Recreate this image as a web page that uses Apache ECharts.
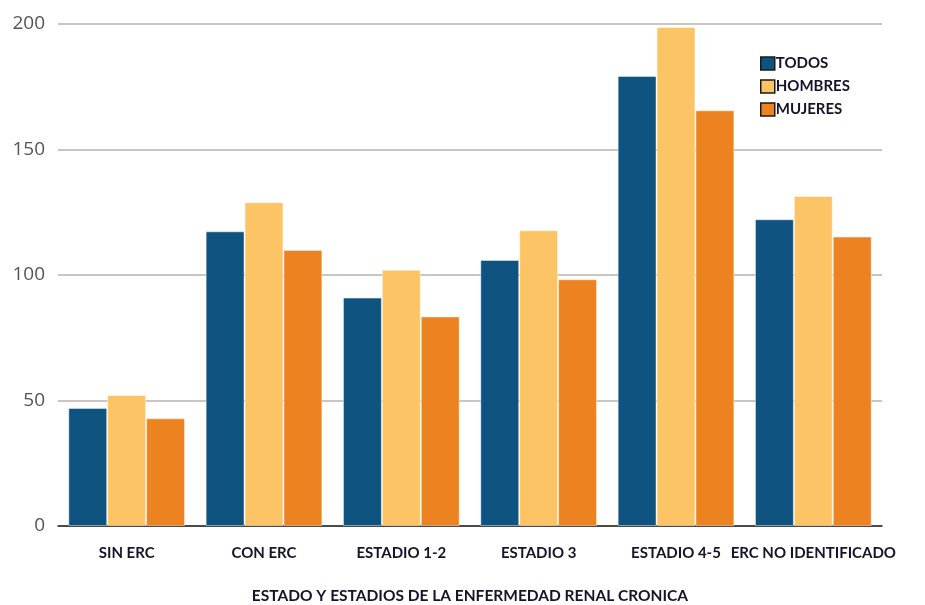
<!DOCTYPE html>
<html>
<head>
<meta charset="utf-8">
<script src="https://cdn.jsdelivr.net/npm/echarts@6/dist/echarts.min.js"></script>
<style>
  html, body { margin: 0; padding: 0; background: #fff; }
  #chart { width: 925px; height: 605px; }
</style>
</head>
<body>
<div id="chart"></div>
<script>
// datos
var categorias = ['SIN ERC', 'CON ERC', 'ESTADIO 1-2', 'ESTADIO 3', 'ESTADIO 4-5', 'ERC NO IDENTIFICADO']
var todos = [47, 117.4, 91, 106, 179.3, 122.2]
var hombres = [52.2, 129, 102.1, 117.8, 198.8, 131.5]
var mujeres = [42.9, 110, 83.5, 98.3, 165.6, 115.3]
var colores = ['#0f5480', '#fdc466', '#ed8220']

var labelFont = { fontFamily: 'Lato', fontWeight: 'bold', color: '#14142a' }

function serie (nombre, datos, color) {
  return {
    name: nombre,
    type: 'bar',
    barGap: '0%',
    barCategoryGap: '15%',
    data: datos,
    itemStyle: {
      color: color,
      borderColor: 'rgba(255,255,255,0.45)',
      borderWidth: 1
    }
  }
}

var chart = echarts.init(document.getElementById('chart'))
chart.setOption({
  animation: false,
  grid: { left: 58, right: 43, top: 24, bottom: 79, outerBoundsMode: 'none' },
  legend: {
    orient: 'vertical',
    left: 755,
    top: 51,
    itemWidth: 14,
    itemHeight: 13,
    itemGap: 8,
    icon: 'rect',
    itemStyle: { borderColor: '#1a1a1a', borderWidth: 1.5 },
    textStyle: Object.assign({ fontSize: 15, padding: [3, 0, 0, -4] }, labelFont),
    data: ['TODOS', 'HOMBRES', 'MUJERES']
  },
  xAxis: {
    type: 'category',
    data: categorias,
    name: 'ESTADO Y ESTADIOS DE LA ENFERMEDAD RENAL CRONICA',
    nameLocation: 'middle',
    nameGap: 62,
    nameTextStyle: Object.assign({ fontSize: 15.5 }, labelFont),
    axisLine: { lineStyle: { color: '#222', width: 1.5 } },
    axisTick: { show: false },
    axisLabel: Object.assign({ fontSize: 15, margin: 20, interval: 0 }, labelFont)
  },
  yAxis: {
    type: 'value',
    min: 0,
    max: 200,
    interval: 50,
    axisLine: { show: false },
    axisTick: { show: false },
    axisLabel: { fontFamily: 'Open Sans', fontSize: 19, color: '#555', margin: 13 },
    splitLine: { lineStyle: { color: '#b9b2ab', width: 1.5 } }
  },
  series: [
    serie('TODOS', todos, colores[0]),
    serie('HOMBRES', hombres, colores[1]),
    serie('MUJERES', mujeres, colores[2])
  ]
})
</script>
</body>
</html>
